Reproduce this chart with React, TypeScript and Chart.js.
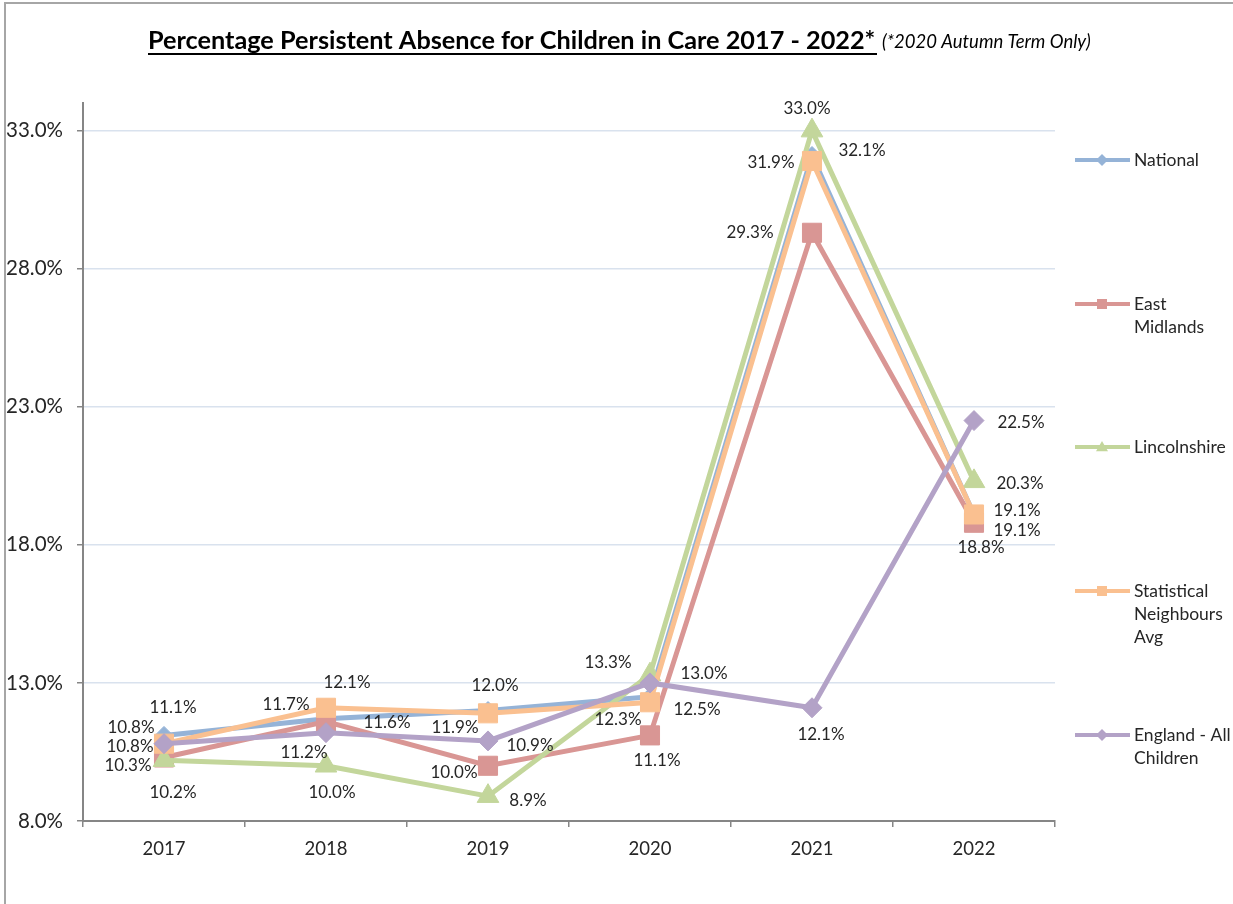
import React, { useEffect, useRef } from 'react';
import { Chart, registerables } from 'chart.js';
Chart.register(...registerables);

const years = ['2017', '2018', '2019', '2020', '2021', '2022'];
const national = [11.1, 11.7, 12.0, 12.5, 32.1, 19.1];
const eastMidlands = [10.3, 11.6, 10.0, 11.1, 29.3, 18.8];
const lincolnshire = [10.2, 10.0, 8.9, 13.3, 33.0, 20.3];
const statNeighbours = [10.8, 12.1, 11.9, 12.3, 31.9, 19.1];
const englandAll = [10.8, 11.2, 10.9, 13.0, 12.1, 22.5];
const yTicks = [8, 13, 18, 23, 28, 33];

const seriesNames = ['National', 'East Midlands', 'Lincolnshire', 'Statistical Neighbours Avg', 'England - All Children'];
const legendLines = [['National'], ['East', 'Midlands'], ['Lincolnshire'], ['Statistical', 'Neighbours', 'Avg'], ['England - All', 'Children']];

// label offsets (px) relative to each point
const labelOffsets = [
  [[9, -28], [-40, -14], [7, -25], [47, 13], [50, -5], [43, 16]],
  [[-36, 8], [61, 1], [-34, 7], [7, 25], [-62, 0], [7, 25]],
  [[9, 32], [6, 27], [40, 4], [-42, -12], [-5, -22], [46, 2]],
  [[-33, -16], [21, -25], [-33, 14], [-32, 17], [-41, 2], [43, -4]],
  [[-34, 3], [-22, 20], [42, 5], [54, -9], [9, 27], [47, 2]],
];

const colors = ['#95B3D7', '#D99694', '#C3D69B', '#FAC090', '#B3A2C7'];
const pointStyles = ['rectRot', 'rect', 'triangle', 'rect', 'rectRot'];
const pointRadii = [9, 13.5, 12.5, 13.5, 10];
const legendY = [160, 304, 447, 591, 735];
const FONT = 'Lato, "Open Sans", sans-serif';
const TEXT = '#262626';

function fitFont(ctx: CanvasRenderingContext2D, text: string, style: string, target: number) {
  let best = 20;
  let bestDiff = 1e9;
  for (let s = 10; s <= 32; s += 0.25) {
    ctx.font = `${style} ${s}px ${FONT}`;
    const d = Math.abs(ctx.measureText(text).width - target);
    if (d < bestDiff) { bestDiff = d; best = s; }
  }
  return best;
}

function drawMarker(ctx: CanvasRenderingContext2D, style: string, x: number, y: number, r: number) {
  ctx.beginPath();
  if (style === 'rect') {
    ctx.rect(x - r, y - r, 2 * r, 2 * r);
  } else if (style === 'rectRot') {
    ctx.moveTo(x - r, y);
    ctx.lineTo(x, y - r);
    ctx.lineTo(x + r, y);
    ctx.lineTo(x, y + r);
    ctx.closePath();
  } else {
    ctx.moveTo(x, y - r);
    ctx.lineTo(x + r, y + r * 0.7);
    ctx.lineTo(x - r, y + r * 0.7);
    ctx.closePath();
  }
  ctx.fill();
}

const decorPlugin = {
  id: 'decor',
  afterDatasetsDraw(chart: any) {
    const ctx = chart.ctx;
    ctx.save();
    ctx.font = `17px ${FONT}`;
    ctx.fillStyle = TEXT;
    ctx.textAlign = 'center';
    ctx.textBaseline = 'middle';
    chart.data.datasets.forEach((ds: any, di: number) => {
      const meta = chart.getDatasetMeta(di);
      meta.data.forEach((el: any, i: number) => {
        const [dx, dy] = labelOffsets[di][i];
        ctx.fillText(ds.data[i].toFixed(1) + '%', el.x + dx, el.y + dy);
      });
    });
    ctx.restore();
  },
  afterDraw(chart: any) {
    const ctx = chart.ctx;
    ctx.save();
    // frame
    ctx.strokeStyle = '#A6A6A6';
    ctx.lineWidth = 2;
    ctx.beginPath();
    ctx.moveTo(5, 904);
    ctx.lineTo(5, 3);
    ctx.lineTo(1233, 3);
    ctx.stroke();

    // title
    const title = 'Percentage Persistent Absence for Children in Care 2017 - 2022*';
    const ts = fitFont(ctx, title, 'bold', 729);
    ctx.font = `bold ${ts}px ${FONT}`;
    ctx.fillStyle = '#000';
    ctx.textAlign = 'left';
    ctx.textBaseline = 'alphabetic';
    ctx.fillText(title, 148, 49);
    ctx.strokeStyle = '#000';
    ctx.lineWidth = 2;
    ctx.beginPath();
    ctx.moveTo(148, 54);
    ctx.lineTo(877, 54);
    ctx.stroke();
    const note = '(*2020 Autumn Term Only)';
    const ns = fitFont(ctx, note, 'italic', 208);
    ctx.font = `italic ${ns}px ${FONT}`;
    ctx.fillText(note, 882, 48);

    // legend
    ctx.font = `17.5px ${FONT}`;
    ctx.textBaseline = 'middle';
    legendLines.forEach((lines, i) => {
      const y = legendY[i];
      ctx.strokeStyle = colors[i];
      ctx.lineWidth = 4;
      ctx.beginPath();
      ctx.moveTo(1075, y);
      ctx.lineTo(1130, y);
      ctx.stroke();
      ctx.fillStyle = colors[i];
      drawMarker(ctx, pointStyles[i], 1102, y, pointStyles[i] === 'rect' ? 5 : 6);
      ctx.fillStyle = TEXT;
      lines.forEach((t, j) => ctx.fillText(t, 1134, y + j * 23));
    });
    ctx.restore();
  },
};

export default function App() {
  const ref = useRef<HTMLCanvasElement>(null);
  useEffect(() => {
    if (!ref.current) return;
    const all = [national, eastMidlands, lincolnshire, statNeighbours, englandAll];
    const chart = new Chart(ref.current, {
      type: 'line',
      data: {
        labels: years,
        datasets: all.map((d, i) => ({
          label: seriesNames[i],
          data: d,
          borderColor: colors[i],
          backgroundColor: colors[i],
          pointBackgroundColor: colors[i],
          pointBorderColor: colors[i],
          pointBorderWidth: 1,
          borderWidth: 5,
          pointStyle: pointStyles[i] as any,
          pointRadius: pointRadii[i],
          tension: 0,
          order: 4 - i,
        })),
      },
      options: {
        responsive: false,
        animation: false,
        events: [],
        layout: { padding: { left: 0, right: 178, top: 103, bottom: 0 } },
        plugins: { legend: { display: false }, title: { display: false }, tooltip: { enabled: false } },
        scales: {
          x: {
            type: 'category',
            offset: true,
            grid: { offset: true, drawOnChartArea: false, drawTicks: true, tickLength: 6, tickColor: '#868686', lineWidth: 1.5 },
            border: { color: '#868686', width: 2 },
            ticks: { color: TEXT, font: { family: FONT, size: 18.5 }, padding: 11 },
            afterFit: (s: any) => { s.height = 83; },
          },
          y: {
            min: 8,
            max: 34,
            afterBuildTicks: (s: any) => { s.ticks = yTicks.map((v) => ({ value: v })); },
            grid: { color: '#D9E2EE', tickColor: '#868686', tickLength: 6, lineWidth: 1.5 },
            border: { color: '#868686', width: 2 },
            ticks: { color: TEXT, font: { family: FONT, size: 20.5 }, padding: 14, callback: (v: any) => Number(v).toFixed(1) + '%' },
            afterFit: (s: any) => { s.width = 83; },
          },
        },
      },
      plugins: [decorPlugin],
    });
    return () => chart.destroy();
  }, []);
  return (
    <div style={{ position: 'absolute', left: 0, top: 0, width: 1233, height: 904, background: '#fff' }}>
      <canvas ref={ref} width={1233} height={904} />
    </div>
  );
}
